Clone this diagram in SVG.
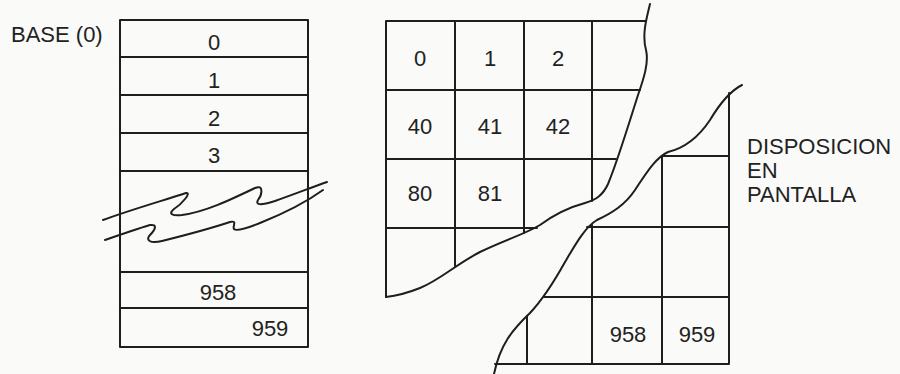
<svg xmlns="http://www.w3.org/2000/svg" width="900" height="374" viewBox="0 0 900 374">
  <style>
    .ln { stroke: #1e1e1e; stroke-width: 2; fill: none; stroke-linecap: round; stroke-linejoin: round; }
    .tx { font-family: "Liberation Sans", Arial, sans-serif; font-size: 22px; fill: #222; }
    .c { text-anchor: middle; }
  </style>
  <rect x="0" y="0" width="900" height="374" fill="#fafaf8"/>

  <g id="base-label">
    <text class="tx" x="11" y="42">BASE (0)</text>
  </g>

  <g id="base-column">
    <rect class="ln" x="120" y="20" width="188" height="327"/>
    <path class="ln" d="M120,57 H308 M120,95 H308 M120,133 H308 M120,171 H308 M120,272 H308 M120,308 H308"/>
    <path class="ln" d="M103,220 C130,210 165,200 186,193 C192,192 182,204 174,209 C168,214 172,216 182,215 C205,212 230,200 255,188 C264,184 262,195 258,200 C255,206 262,205 275,201 C295,194 310,188 327,182"/>
    <path class="ln" d="M105,240 C125,233 140,228 150,225 C158,224 155,230 150,235 C145,240 150,244 162,241 C190,234 215,227 230,222 C238,220 232,227 234,229 C236,231 245,229 260,223 C285,213 305,203 323,190"/>
    <text class="tx c" x="214" y="50">0</text>
    <text class="tx c" x="214" y="88">1</text>
    <text class="tx c" x="214" y="126">2</text>
    <text class="tx c" x="214" y="163">3</text>
    <text class="tx c" x="218" y="300">958</text>
    <text class="tx c" x="270" y="336">959</text>
  </g>

  <g id="screen-left">
    <path class="ln" d="M646,21 H386 V297"/>
    <path class="ln" d="M386,90 H640 M386,159 H616 M386,228 H537"/>
    <path class="ln" d="M455,21 V266 M524,21 V233 M592,21 V201"/>
    <path class="ln" d="M650,4 C646,20 642,35 646,50 C649,62 644,78 638,95 C630,120 618,160 608,184 C603,195 596,200 585,203 C570,207 555,214 540,225 C525,234 505,240 480,252 C455,265 440,280 420,288 C405,294 395,296 386,297"/>
    <text class="tx c" x="420" y="66">0</text>
    <text class="tx c" x="490" y="66">1</text>
    <text class="tx c" x="558" y="66">2</text>
    <text class="tx c" x="420" y="134">40</text>
    <text class="tx c" x="490" y="134">41</text>
    <text class="tx c" x="558" y="134">42</text>
    <text class="tx c" x="420" y="201">80</text>
    <text class="tx c" x="490" y="201">81</text>
  </g>

  <g id="screen-right">
    <path class="ln" d="M729,93 V364 H495"/>
    <path class="ln" d="M662,156 H729 M587,227 H729 M544,297 H729"/>
    <path class="ln" d="M662,156 V364 M592,225 V364 M527,316 V364"/>
    <path class="ln" d="M742,85 C732,90 722,100 710,120 C698,138 685,148 668,152 C655,158 645,175 635,190 C625,205 612,213 597,220 C585,227 575,245 565,262 C555,280 545,297 530,313 C512,330 500,345 494,374"/>
    <text class="tx c" x="628" y="342">958</text>
    <text class="tx c" x="697" y="342">959</text>
  </g>

  <g id="screen-label">
    <text class="tx" x="747" y="154">DISPOSICION</text>
    <text class="tx" x="747" y="178">EN</text>
    <text class="tx" x="747" y="202">PANTALLA</text>
  </g>

  <g id="connectors"></g>
</svg>
